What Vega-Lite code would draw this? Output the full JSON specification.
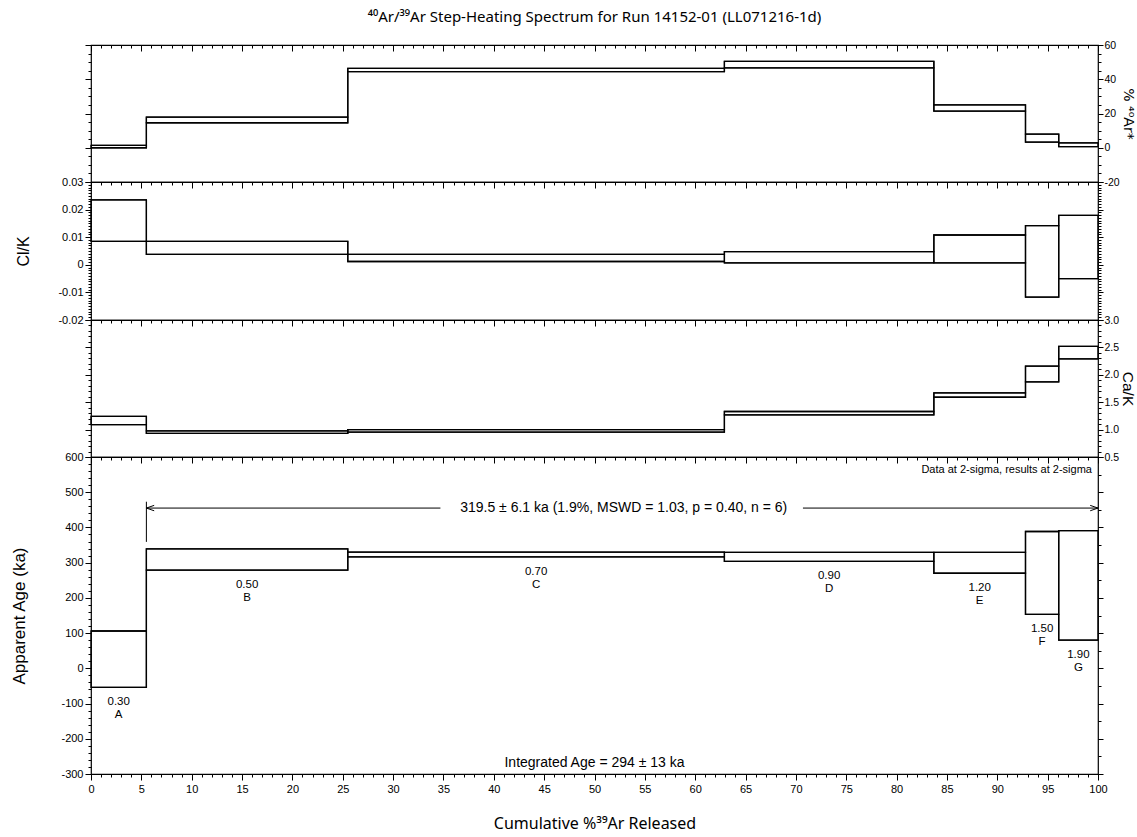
{
  "$schema": "https://vega.github.io/schema/vega-lite/v6.json",
  "bounds": "flush",
  "spacing": 0,
  "padding": {"left": 10, "top": 10, "right": 0, "bottom": 3},
  "background": "white",
  "title": {"text": "⁴⁰Ar/³⁹Ar Step-Heating Spectrum for Run 14152-01 (LL071216-1d)", "fontSize": 15, "fontWeight": "normal", "font": "Noto Sans", "offset": 14, "anchor": "middle", "frame": "group", "color": "black"},
  "config": {
    "font": "Liberation Sans",
    "view": {"stroke": "black", "strokeWidth": 1.2},
    "concat": {"spacing": 0},
    "axis": {"domain": false, "grid": false, "tickColor": "black", "tickWidth": 1, "labelColor": "black", "titleColor": "black", "labelFont": "Liberation Sans", "labelFontSize": 11, "titleFont": "Liberation Sans", "titleFontSize": 16, "titleFontWeight": "normal", "labelOverlap": false, "labelFlush": false, "labelPadding": 2}
  },
  "datasets": {
    "steps": [
      {"step": "A", "power": "0.30", "x0": 0, "x1": 5.5, "ar_lo": 0.0, "ar_hi": 1.4, "cl_lo": 0.0085, "cl_hi": 0.0235, "ca_lo": 1.09, "ca_hi": 1.24, "age_lo": -54, "age_hi": 106},
      {"step": "B", "power": "0.50", "x0": 5.5, "x1": 25.5, "ar_lo": 14.6, "ar_hi": 17.9, "cl_lo": 0.0038, "cl_hi": 0.0085, "ca_lo": 0.93, "ca_hi": 0.975, "age_lo": 279, "age_hi": 339},
      {"step": "C", "power": "0.70", "x0": 25.5, "x1": 62.9, "ar_lo": 44.5, "ar_hi": 46.4, "cl_lo": 0.0012, "cl_hi": 0.0038, "ca_lo": 0.955, "ca_hi": 1.0, "age_lo": 316.7, "age_hi": 330},
      {"step": "D", "power": "0.90", "x0": 62.9, "x1": 83.7, "ar_lo": 46.6, "ar_hi": 50.4, "cl_lo": 0.0007, "cl_hi": 0.0048, "ca_lo": 1.27, "ca_hi": 1.33, "age_lo": 303.5, "age_hi": 329},
      {"step": "E", "power": "1.20", "x0": 83.7, "x1": 92.8, "ar_lo": 21.4, "ar_hi": 25.0, "cl_lo": 0.0007, "cl_hi": 0.0108, "ca_lo": 1.59, "ca_hi": 1.67, "age_lo": 270, "age_hi": 329},
      {"step": "F", "power": "1.50", "x0": 92.8, "x1": 96.1, "ar_lo": 3.3, "ar_hi": 7.9, "cl_lo": -0.0117, "cl_hi": 0.0142, "ca_lo": 1.87, "ca_hi": 2.16, "age_lo": 153, "age_hi": 388.5},
      {"step": "G", "power": "1.90", "x0": 96.1, "x1": 100, "ar_lo": 0.6, "ar_hi": 2.8, "cl_lo": -0.005, "cl_hi": 0.0179, "ca_lo": 2.29, "ca_hi": 2.52, "age_lo": 80, "age_hi": 391}
    ],
    "notes": [
      {"kind": "plateau", "x": 52.9, "y": 455, "text": "319.5 ± 6.1 ka (1.9%, MSWD = 1.03, p = 0.40, n = 6)"},
      {"kind": "integrated", "x": 50, "y": -268, "text": "Integrated Age = 294 ± 13 ka"},
      {"kind": "sigma", "x": 99.4, "y": 562, "text": "Data at 2-sigma, results at 2-sigma"}
    ],
    "arrows": [
      {"x": 5.5, "x2": 34.7, "y": 455, "y2": 455},
      {"x": 70.7, "x2": 100, "y": 455, "y2": 455},
      {"x": 5.5, "x2": 5.5, "y": 359, "y2": 473}
    ],
    "heads": [
      {"x": 5.5, "y": 455, "dir": "left"},
      {"x": 100, "y": 455, "dir": "right"}
    ]
  },
  "vconcat": [
    {
      "width": 1007, "height": 137,
      "data": {"name": "steps"},
      "resolve": {"axis": {"x": "independent", "y": "independent"}},
      "layer": [
        {"transform": [{"fold": ["x0", "x1"], "as": ["edge", "xe"]}],
         "mark": {"type": "line", "color": "black", "strokeWidth": 1.3},
         "encoding": {
           "x": {"field": "xe", "type": "quantitative", "scale": {"domain": [0, 100], "nice": false, "zero": false}, "axis": {"orient": "top", "tickCount": 20, "tickSize": -6, "labels": false, "title": null}},
           "y": {"field": "ar_hi", "type": "quantitative", "scale": {"domain": [-20, 60], "nice": false, "zero": false}, "axis": {"orient": "left", "tickCount": 4, "tickSize": 6, "labels": false, "title": null}},
           "order": [{"field": "step", "type": "ordinal"}, {"field": "xe", "type": "quantitative"}]}},
        {"transform": [{"fold": ["x0", "x1"], "as": ["edge", "xe"]}],
         "mark": {"type": "line", "color": "black", "strokeWidth": 1.3},
         "encoding": {
           "x": {"field": "xe", "type": "quantitative", "scale": {"domain": [0, 100], "nice": false, "zero": false}, "axis": {"orient": "top", "tickCount": 100, "tickSize": -3, "labels": false, "title": null}},
           "y": {"field": "ar_lo", "type": "quantitative", "scale": {"domain": [-20, 60], "nice": false, "zero": false}, "axis": {"orient": "left", "tickCount": 16, "tickSize": 3, "labels": false, "title": null}},
           "order": [{"field": "step", "type": "ordinal"}, {"field": "xe", "type": "quantitative"}]}},
        {"mark": {"type": "rect", "stroke": "black", "strokeWidth": 1.3, "fillOpacity": 0},
         "encoding": {
           "x": {"field": "x0", "type": "quantitative", "scale": {"domain": [0, 100], "nice": false, "zero": false}, "axis": null},
           "x2": {"field": "x1"},
           "y": {"field": "ar_lo", "type": "quantitative", "scale": {"domain": [-20, 60], "nice": false, "zero": false}, "axis": {"orient": "right", "tickCount": 4, "tickSize": 5, "labelPadding": 1, "labelFontSize": 10.5, "labelExpr": "replace(datum.label, '\u2212', '-')", "title": "% ⁴⁰Ar*", "titleFont": "DejaVu Sans", "titleFontSize": 14, "titlePadding": 1}},
           "y2": {"field": "ar_hi"}}},
        {"transform": [{"fold": ["x0", "x1"], "as": ["edge", "xe"]}],
         "mark": {"type": "line", "color": "black", "opacity": 0},
         "encoding": {
           "x": {"field": "xe", "type": "quantitative", "scale": {"domain": [0, 100], "nice": false, "zero": false}, "axis": null},
           "y": {"field": "ar_lo", "type": "quantitative", "scale": {"domain": [-20, 60], "nice": false, "zero": false}, "axis": {"orient": "right", "tickCount": 16, "tickSize": 3, "labels": false, "title": null}},
           "order": [{"field": "step", "type": "ordinal"}, {"field": "xe", "type": "quantitative"}]}}
      ]
    },
    {
      "width": 1007, "height": 138,
      "data": {"name": "steps"},
      "resolve": {"axis": {"x": "independent", "y": "independent"}},
      "layer": [
        {"transform": [{"fold": ["x0", "x1"], "as": ["edge", "xe"]}],
         "mark": {"type": "line", "color": "black", "strokeWidth": 1.3},
         "encoding": {
           "x": {"field": "xe", "type": "quantitative", "scale": {"domain": [0, 100], "nice": false, "zero": false}, "axis": {"orient": "top", "tickCount": 20, "tickSize": -6, "labels": false, "title": null}},
           "y": {"field": "cl_hi", "type": "quantitative", "scale": {"domain": [-0.02, 0.03], "nice": false, "zero": false}, "axis": {"orient": "left", "tickCount": 5, "tickSize": 6, "format": "~f", "labelExpr": "replace(datum.label, '\u2212', '-')", "title": "Cl/K", "titlePadding": 26}},
           "order": [{"field": "step", "type": "ordinal"}, {"field": "xe", "type": "quantitative"}]}},
        {"transform": [{"fold": ["x0", "x1"], "as": ["edge", "xe"]}],
         "mark": {"type": "line", "color": "black", "strokeWidth": 1.3},
         "encoding": {
           "x": {"field": "xe", "type": "quantitative", "scale": {"domain": [0, 100], "nice": false, "zero": false}, "axis": {"orient": "top", "tickCount": 100, "tickSize": -3, "labels": false, "title": null}},
           "y": {"field": "cl_lo", "type": "quantitative", "scale": {"domain": [-0.02, 0.03], "nice": false, "zero": false}, "axis": {"orient": "left", "tickCount": 50, "tickSize": 3, "labels": false, "title": null}},
           "order": [{"field": "step", "type": "ordinal"}, {"field": "xe", "type": "quantitative"}]}},
        {"mark": {"type": "rect", "stroke": "black", "strokeWidth": 1.3, "fillOpacity": 0},
         "encoding": {
           "x": {"field": "x0", "type": "quantitative", "scale": {"domain": [0, 100], "nice": false, "zero": false}, "axis": null},
           "x2": {"field": "x1"},
           "y": {"field": "cl_lo", "type": "quantitative", "scale": {"domain": [-0.02, 0.03], "nice": false, "zero": false}, "axis": {"orient": "right", "tickCount": 5, "tickSize": 5, "labels": false, "title": null}},
           "y2": {"field": "cl_hi"}}},
        {"transform": [{"fold": ["x0", "x1"], "as": ["edge", "xe"]}],
         "mark": {"type": "line", "color": "black", "opacity": 0},
         "encoding": {
           "x": {"field": "xe", "type": "quantitative", "scale": {"domain": [0, 100], "nice": false, "zero": false}, "axis": null},
           "y": {"field": "cl_lo", "type": "quantitative", "scale": {"domain": [-0.02, 0.03], "nice": false, "zero": false}, "axis": {"orient": "right", "tickCount": 50, "tickSize": 3, "labels": false, "title": null}},
           "order": [{"field": "step", "type": "ordinal"}, {"field": "xe", "type": "quantitative"}]}}
      ]
    },
    {
      "width": 1007, "height": 137,
      "data": {"name": "steps"},
      "resolve": {"axis": {"x": "independent", "y": "independent"}},
      "layer": [
        {"transform": [{"fold": ["x0", "x1"], "as": ["edge", "xe"]}],
         "mark": {"type": "line", "color": "black", "strokeWidth": 1.3},
         "encoding": {
           "x": {"field": "xe", "type": "quantitative", "scale": {"domain": [0, 100], "nice": false, "zero": false}, "axis": {"orient": "top", "tickCount": 20, "tickSize": -6, "labels": false, "title": null}},
           "y": {"field": "ca_hi", "type": "quantitative", "scale": {"domain": [0.5, 3.0], "nice": false, "zero": false}, "axis": {"orient": "left", "tickCount": 5, "tickSize": 6, "labels": false, "title": null}},
           "order": [{"field": "step", "type": "ordinal"}, {"field": "xe", "type": "quantitative"}]}},
        {"transform": [{"fold": ["x0", "x1"], "as": ["edge", "xe"]}],
         "mark": {"type": "line", "color": "black", "strokeWidth": 1.3},
         "encoding": {
           "x": {"field": "xe", "type": "quantitative", "scale": {"domain": [0, 100], "nice": false, "zero": false}, "axis": {"orient": "top", "tickCount": 100, "tickSize": -3, "labels": false, "title": null}},
           "y": {"field": "ca_lo", "type": "quantitative", "scale": {"domain": [0.5, 3.0], "nice": false, "zero": false}, "axis": {"orient": "left", "tickCount": 25, "tickSize": 3, "labels": false, "title": null}},
           "order": [{"field": "step", "type": "ordinal"}, {"field": "xe", "type": "quantitative"}]}},
        {"mark": {"type": "rect", "stroke": "black", "strokeWidth": 1.3, "fillOpacity": 0},
         "encoding": {
           "x": {"field": "x0", "type": "quantitative", "scale": {"domain": [0, 100], "nice": false, "zero": false}, "axis": null},
           "x2": {"field": "x1"},
           "y": {"field": "ca_lo", "type": "quantitative", "scale": {"domain": [0.5, 3.0], "nice": false, "zero": false}, "axis": {"orient": "right", "tickCount": 5, "tickSize": 5, "labelPadding": 1, "labelFontSize": 10.5, "format": ".1f", "title": "Ca/K", "titleFontSize": 15.5, "titlePadding": 1}},
           "y2": {"field": "ca_hi"}}},
        {"transform": [{"fold": ["x0", "x1"], "as": ["edge", "xe"]}],
         "mark": {"type": "line", "color": "black", "opacity": 0},
         "encoding": {
           "x": {"field": "xe", "type": "quantitative", "scale": {"domain": [0, 100], "nice": false, "zero": false}, "axis": null},
           "y": {"field": "ca_lo", "type": "quantitative", "scale": {"domain": [0.5, 3.0], "nice": false, "zero": false}, "axis": {"orient": "right", "tickCount": 25, "tickSize": 3, "labels": false, "title": null}},
           "order": [{"field": "step", "type": "ordinal"}, {"field": "xe", "type": "quantitative"}]}}
      ]
    },
    {
      "width": 1007, "height": 317,
      "data": {"name": "steps"},
      "resolve": {"axis": {"x": "independent", "y": "independent"}},
      "layer": [
        {"transform": [{"fold": ["x0", "x1"], "as": ["edge", "xe"]}],
         "mark": {"type": "line", "color": "black", "strokeWidth": 1.3},
         "encoding": {
           "x": {"field": "xe", "type": "quantitative", "scale": {"domain": [0, 100], "nice": false, "zero": false}, "axis": {"orient": "top", "tickCount": 20, "tickSize": -6, "labels": false, "title": null}},
           "y": {"field": "age_hi", "type": "quantitative", "scale": {"domain": [-300, 600], "nice": false, "zero": false}, "axis": {"orient": "left", "tickCount": 9, "tickSize": 6, "labelExpr": "replace(datum.label, '\u2212', '-')", "title": "Apparent Age (ka)", "titleFontSize": 17, "titlePadding": 32}},
           "order": [{"field": "step", "type": "ordinal"}, {"field": "xe", "type": "quantitative"}]}},
        {"transform": [{"fold": ["x0", "x1"], "as": ["edge", "xe"]}],
         "mark": {"type": "line", "color": "black", "strokeWidth": 1.3},
         "encoding": {
           "x": {"field": "xe", "type": "quantitative", "scale": {"domain": [0, 100], "nice": false, "zero": false}, "axis": {"orient": "top", "tickCount": 100, "tickSize": -3, "labels": false, "title": null}},
           "y": {"field": "age_lo", "type": "quantitative", "scale": {"domain": [-300, 600], "nice": false, "zero": false}, "axis": {"orient": "left", "tickCount": 45, "tickSize": 3, "labels": false, "title": null}},
           "order": [{"field": "step", "type": "ordinal"}, {"field": "xe", "type": "quantitative"}]}},
        {"mark": {"type": "rect", "stroke": "black", "strokeWidth": 1.3, "fillOpacity": 0},
         "encoding": {
           "x": {"field": "x0", "type": "quantitative", "scale": {"domain": [0, 100], "nice": false, "zero": false}, "axis": {"orient": "bottom", "tickCount": 20, "tickSize": 6, "labelPadding": 3, "title": "Cumulative %³⁹Ar Released", "titleFont": "Noto Sans", "titleFontSize": 16, "titlePadding": 21}},
           "x2": {"field": "x1"},
           "y": {"field": "age_lo", "type": "quantitative", "scale": {"domain": [-300, 600], "nice": false, "zero": false}, "axis": {"orient": "right", "tickCount": 9, "tickSize": 5, "labels": false, "title": null}},
           "y2": {"field": "age_hi"}}},
        {"transform": [{"fold": ["x0", "x1"], "as": ["edge", "xe"]}],
         "mark": {"type": "line", "color": "black", "opacity": 0},
         "encoding": {
           "x": {"field": "xe", "type": "quantitative", "scale": {"domain": [0, 100], "nice": false, "zero": false}, "axis": {"orient": "bottom", "tickCount": 100, "tickSize": 3, "labels": false, "title": null}},
           "y": {"field": "age_lo", "type": "quantitative", "scale": {"domain": [-300, 600], "nice": false, "zero": false}, "axis": {"orient": "right", "tickCount": 18, "tickSize": 3, "labels": false, "title": null}},
           "order": [{"field": "step", "type": "ordinal"}, {"field": "xe", "type": "quantitative"}]}},
        {"transform": [{"fold": ["x0", "x1"], "as": ["edge", "xe"]}, {"aggregate": [{"op": "mean", "field": "xe", "as": "xmid"}], "groupby": ["step", "power", "age_lo"]}],
         "mark": {"type": "text", "dy": 15, "fontSize": 11.5, "color": "black", "baseline": "middle"},
         "encoding": {
           "x": {"field": "xmid", "type": "quantitative", "scale": {"domain": [0, 100], "nice": false, "zero": false}, "axis": null},
           "y": {"field": "age_lo", "type": "quantitative", "scale": {"domain": [-300, 600], "nice": false, "zero": false}, "axis": null},
           "text": {"field": "power"}}},
        {"transform": [{"fold": ["x0", "x1"], "as": ["edge", "xe"]}, {"aggregate": [{"op": "mean", "field": "xe", "as": "xmid"}], "groupby": ["step", "power", "age_lo"]}],
         "mark": {"type": "text", "dy": 28, "fontSize": 11.5, "color": "black", "baseline": "middle"},
         "encoding": {
           "x": {"field": "xmid", "type": "quantitative", "scale": {"domain": [0, 100], "nice": false, "zero": false}, "axis": null},
           "y": {"field": "age_lo", "type": "quantitative", "scale": {"domain": [-300, 600], "nice": false, "zero": false}, "axis": null},
           "text": {"field": "step"}}},
        {"data": {"name": "arrows"},
         "mark": {"type": "rule", "color": "black", "strokeWidth": 1},
         "encoding": {
           "x": {"field": "x", "type": "quantitative", "scale": {"domain": [0, 100], "nice": false, "zero": false}, "axis": null},
           "x2": {"field": "x2"},
           "y": {"field": "y", "type": "quantitative", "scale": {"domain": [-300, 600], "nice": false, "zero": false}, "axis": null},
           "y2": {"field": "y2"}}},
        {"data": {"name": "heads"},
         "mark": {"type": "point", "filled": false, "color": "black", "strokeWidth": 1, "size": 36, "opacity": 1},
         "encoding": {
           "x": {"field": "x", "type": "quantitative", "scale": {"domain": [0, 100], "nice": false, "zero": false}, "axis": null},
           "y": {"field": "y", "type": "quantitative", "scale": {"domain": [-300, 600], "nice": false, "zero": false}, "axis": null},
           "shape": {"field": "dir", "type": "nominal", "scale": {"domain": ["left", "right"], "range": ["M2.6,-0.9L0,0L2.6,0.9", "M-2.6,-0.9L0,0L-2.6,0.9"]}, "legend": null}}},
        {"data": {"name": "notes"},
         "transform": [{"filter": "datum.kind === 'plateau'"}],
         "mark": {"type": "text", "fontSize": 14, "color": "black", "align": "center", "baseline": "middle"},
         "encoding": {
           "x": {"field": "x", "type": "quantitative", "scale": {"domain": [0, 100], "nice": false, "zero": false}, "axis": null},
           "y": {"field": "y", "type": "quantitative", "scale": {"domain": [-300, 600], "nice": false, "zero": false}, "axis": null},
           "text": {"field": "text"}}},
        {"data": {"name": "notes"},
         "transform": [{"filter": "datum.kind === 'integrated'"}],
         "mark": {"type": "text", "fontSize": 14, "color": "black", "align": "center", "baseline": "middle"},
         "encoding": {
           "x": {"field": "x", "type": "quantitative", "scale": {"domain": [0, 100], "nice": false, "zero": false}, "axis": null},
           "y": {"field": "y", "type": "quantitative", "scale": {"domain": [-300, 600], "nice": false, "zero": false}, "axis": null},
           "text": {"field": "text"}}},
        {"data": {"name": "notes"},
         "transform": [{"filter": "datum.kind === 'sigma'"}],
         "mark": {"type": "text", "fontSize": 11, "color": "black", "align": "right", "baseline": "middle"},
         "encoding": {
           "x": {"field": "x", "type": "quantitative", "scale": {"domain": [0, 100], "nice": false, "zero": false}, "axis": null},
           "y": {"field": "y", "type": "quantitative", "scale": {"domain": [-300, 600], "nice": false, "zero": false}, "axis": null},
           "text": {"field": "text"}}}
      ]
    }
  ]
}
